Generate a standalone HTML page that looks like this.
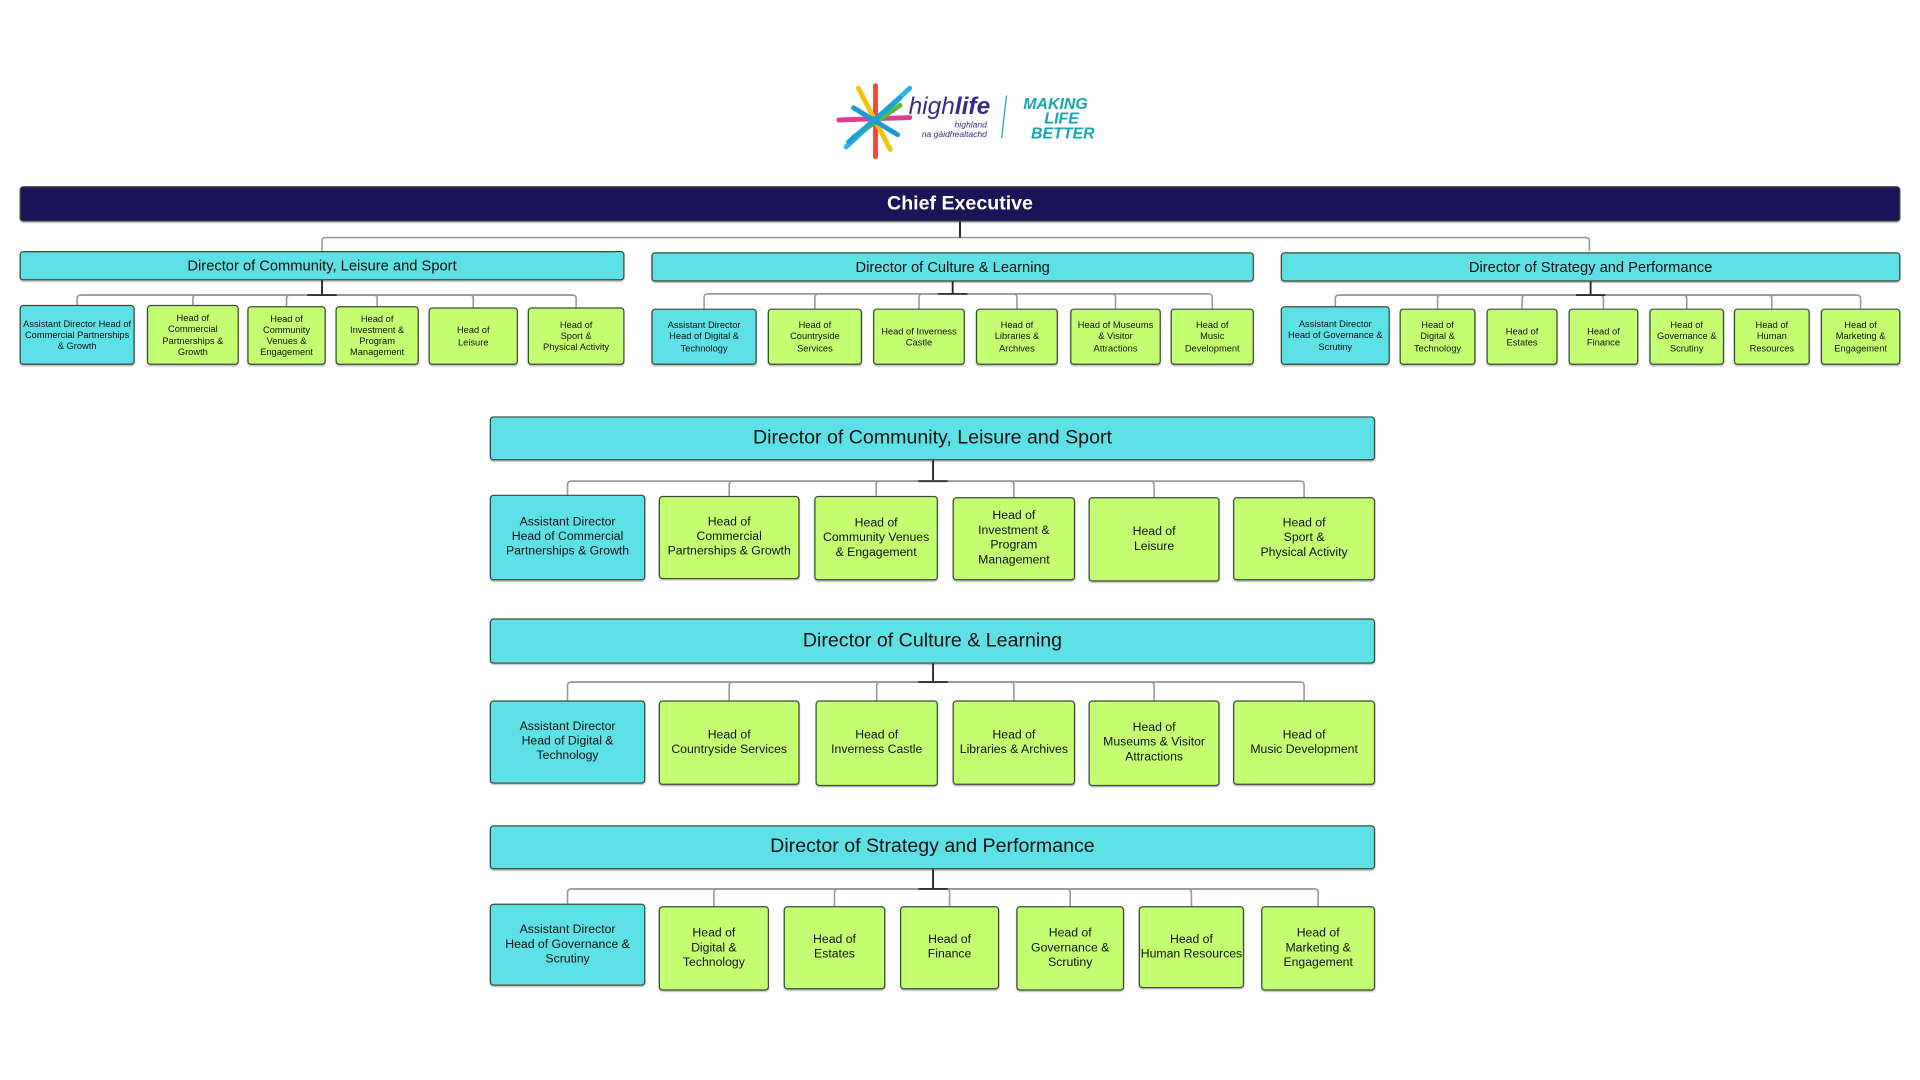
<!DOCTYPE html>
<html><head><meta charset="utf-8">
<style>
html,body{margin:0;padding:0;background:#fff;overflow:hidden}
#c{position:absolute;left:0;top:0;width:1568px;height:882px;transform:scale(1.22449);transform-origin:0 0;font-family:"Liberation Sans",sans-serif}
.b{position:absolute;box-sizing:border-box;border:1px solid #3a4a3a;border-radius:3px;display:flex;align-items:center;justify-content:center;text-align:center;color:#111;line-height:1.2;box-shadow:0 1px 1px rgba(0,0,0,.25)}
.g{background:#c3ff70}.cy{background:#5de0e6}
svg{position:absolute;left:0;top:0}
</style></head><body><div id="c">
<svg id="s" width="1568" height="882"></svg>
</div>
<script>
const c=document.getElementById('c'),s=document.getElementById('s');
function box(x1,x2,y1,y2,t,cls,fs){const d=document.createElement('div');d.className='b '+cls;d.style.cssText=`left:${x1}px;top:${y1}px;width:${x2-x1}px;height:${y2-y1}px;font-size:${fs}px`;d.innerHTML=t;c.appendChild(d);}
function path(d,col,w){s.insertAdjacentHTML('beforeend',`<path d="${d}" fill="none" stroke="${col}" stroke-width="${w}"/>`);}
function conn(px,py,bus,kids){path(`M${px} ${py}V${bus}`,'#222',1.5);
 for(const k of kids){const cx=(k[0]+k[1])/2;path(`M${px} ${bus}H${cx+(cx<px?3:-3)}Q${cx} ${bus} ${cx} ${bus+3}V${k[2]}`,'#999',1.3);}
 path(`M${Math.min(...kids.map(k=>(k[0]+k[1])/2))+3} ${bus}H${Math.max(...kids.map(k=>(k[0]+k[1])/2))-3}`,'#999',1.3);
 path(`M${px-12} ${bus}H${px+12}`,'#333',1.5);}
// chief
box(16,1552,152,181,'Chief Executive','',16);
c.lastChild.style.background='#1c1458';c.lastChild.style.color='#fff';c.lastChild.style.fontWeight='bold';
path('M784 181V194M263 205V197Q263 194 266 194H1295Q1298 194 1298 197V205','#999',1.3);path('M784 181V194','#222',1.5);
const T=[
 [[16,510,205,229],'Director of Community, Leisure and Sport',241,[
  [16,110,249,'Assistant Director Head of Commercial Partnerships &amp; Growth',1],[120,195,249,'Head of<br>Commercial<br>Partnerships &amp;<br>Growth'],[202,266,250,'Head of<br>Community<br>Venues &amp;<br>Engagement'],[274,342,250,'Head of<br>Investment &amp;<br>Program<br>Management'],[350,423,251,'Head of<br>Leisure'],[431,510,251,'Head of<br>Sport &amp;<br>Physical Activity']]],
 [[532,1024,206,230],'Director of Culture &amp; Learning',240,[
  [532,618,252,'Assistant Director<br>Head of Digital &amp;<br>Technology',1],[627,704,252,'Head of<br>Countryside<br>Services'],[713,788,252,'Head of Inverness<br>Castle'],[797,864,252,'Head of<br>Libraries &amp;<br>Archives'],[874,948,252,'Head of Museums<br>&amp; Visitor<br>Attractions'],[956,1024,252,'Head of<br>Music<br>Development']]],
 [[1046,1552,206,230],'Director of Strategy and Performance',241,[
  [1046,1135,250,'Assistant Director<br>Head of Governance &amp;<br>Scrutiny',1],[1143,1205,252,'Head of<br>Digital &amp;<br>Technology'],[1214,1272,252,'Head of<br>Estates'],[1281,1338,252,'Head of<br>Finance'],[1347,1408,252,'Head of<br>Governance &amp;<br>Scrutiny'],[1416,1478,252,'Head of<br>Human<br>Resources'],[1487,1552,252,'Head of<br>Marketing &amp;<br>Engagement']]]];
for(const [d,t,bus,k] of T){box(d[0],d[1],d[2],d[3],t,'cy',12);conn((d[0]+d[1])/2,d[3],bus,k.map(x=>[x[0],x[1],x[2]]));
 for(const x of k)box(x[0],x[1],x[2],298,x[3],x[4]?'cy':'g',7.6);}
const L=[
 [340,376,'Director of Community, Leisure and Sport',393,[[400,527,404,474,'Assistant Director<br>Head of Commercial<br>Partnerships &amp; Growth',1],[538,653,405,473,'Head of<br>Commercial<br>Partnerships &amp; Growth'],[665,766,405,474,'Head of<br>Community Venues<br>&amp; Engagement'],[778,878,406,474,'Head of<br>Investment &amp;<br>Program<br>Management'],[889,996,406,475,'Head of<br>Leisure'],[1007,1123,406,474,'Head of<br>Sport &amp;<br>Physical Activity']]],
 [505,542,'Director of Culture &amp; Learning',557,[[400,527,572,640,'Assistant Director<br>Head of Digital &amp;<br>Technology',1],[538,653,572,641,'Head of<br>Countryside Services'],[666,766,572,642,'Head of<br>Inverness Castle'],[778,878,572,641,'Head of<br>Libraries &amp; Archives'],[889,996,572,642,'Head of<br>Museums &amp; Visitor<br>Attractions'],[1007,1123,572,641,'Head of<br>Music Development']]],
 [674,710,'Director of Strategy and Performance',726,[[400,527,738,805,'Assistant Director<br>Head of Governance &amp;<br>Scrutiny',1],[538,628,740,809,'Head of<br>Digital &amp;<br>Technology'],[640,723,740,808,'Head of<br>Estates'],[735,816,740,808,'Head of<br>Finance'],[830,918,740,809,'Head of<br>Governance &amp;<br>Scrutiny'],[930,1016,740,807,'Head of<br>Human Resources'],[1030,1123,740,809,'Head of<br>Marketing &amp;<br>Engagement']]]];
for(const [y1,y2,t,bus,k] of L){box(400,1123,y1,y2,t,'cy',16);conn(762,y2,bus,k.map(x=>[x[0],x[1],x[2]]));
 for(const x of k)box(x[0],x[1],x[2],x[3],x[4],x[5]?'cy':'g',10);}
// logo
const cols=['#f4c20d','#e94b3c','#2ab4e8','#59b947','#d6438f','#1d9ad6','#f39a1e','#8e44ad'];
let lg='';const cx=715,cy=98;
[[0,-28,0,30,'#e94b3c'],[-14,-26,12,24,'#f4c20d'],[28,-26,-24,22,'#2ab4e8'],[-30,0,28,-2,'#d6438f'],[20,-12,-18,14,'#59b947'],[-18,-10,18,12,'#1d9ad6'],[-22,18,20,-18,'#1aa3d8']].forEach(a=>{lg+=`<line x1="${cx+a[0]}" y1="${cy+a[1]}" x2="${cx+a[2]}" y2="${cy+a[3]}" stroke="${a[4]}" stroke-width="4" stroke-linecap="round"/>`});
lg+=`<text x="742" y="93" font-family="Liberation Sans" font-style="italic" font-size="20" fill="#3a2a8a">high<tspan font-weight="bold">life</tspan></text>
<text x="806" y="104" text-anchor="end" font-family="Liberation Sans" font-style="italic" font-size="7" fill="#3a2a8a">highland</text>
<text x="806" y="112" text-anchor="end" font-family="Liberation Sans" font-style="italic" font-size="7" fill="#3a2a8a">na gàidhealtachd</text>
<line x1="822" y1="78" x2="818" y2="113" stroke="#1aa3b8" stroke-width="1"/>
<text x="862" y="89" text-anchor="middle" font-family="Liberation Sans" font-weight="bold" font-style="italic" font-size="13" fill="#14a6b0">MAKING</text>
<text x="867" y="101" text-anchor="middle" font-family="Liberation Sans" font-weight="bold" font-style="italic" font-size="13" fill="#14a6b0">LIFE</text>
<text x="868" y="113" text-anchor="middle" font-family="Liberation Sans" font-weight="bold" font-style="italic" font-size="13" fill="#14a6b0">BETTER</text>`;
s.insertAdjacentHTML('beforeend',lg);
</script></body></html>
